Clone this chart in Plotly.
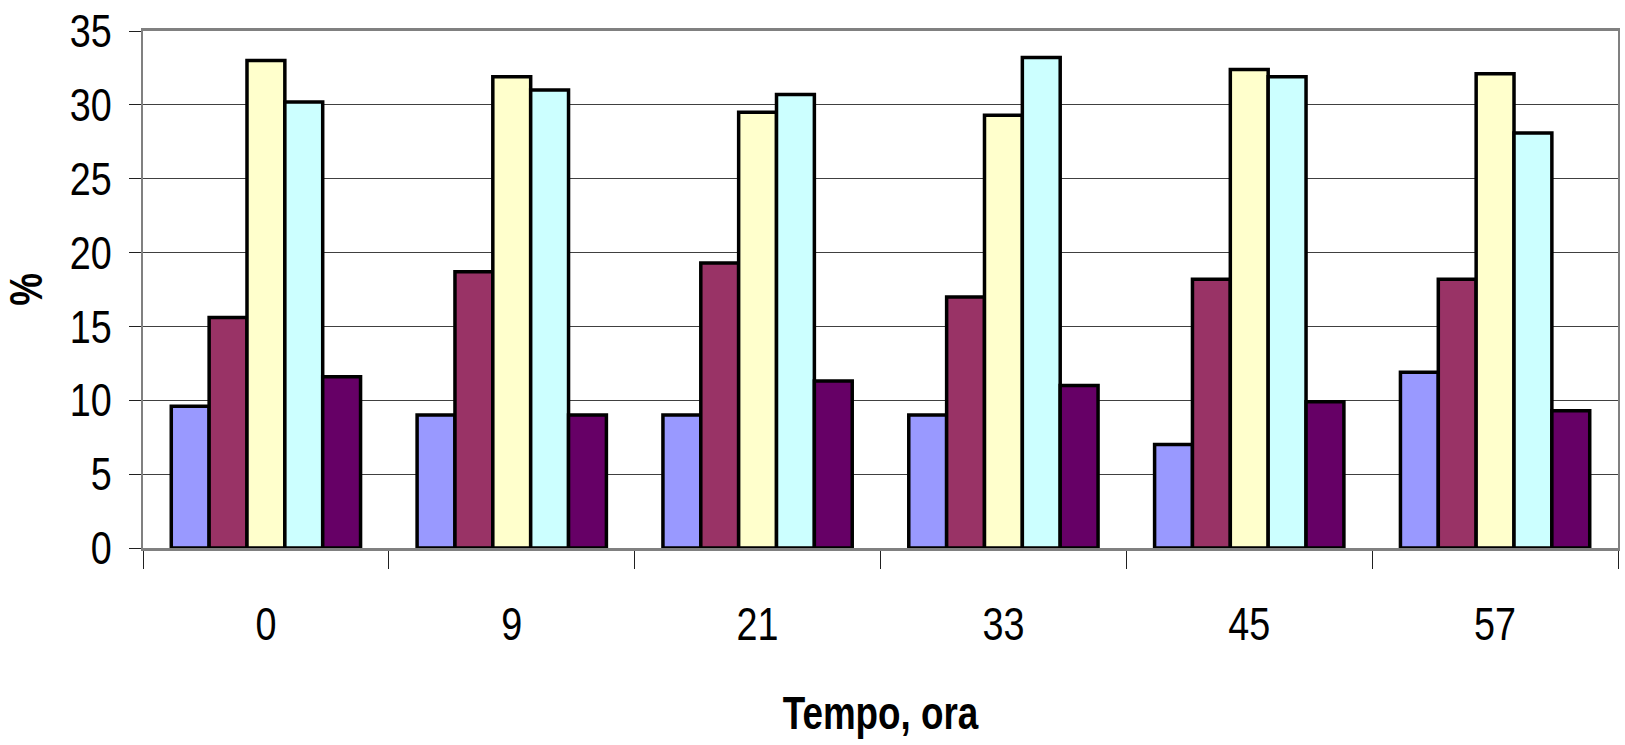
import plotly.graph_objects as go

# Sampling times (hours) and percentage of each fraction
tempo = ["0", "9", "21", "33", "45", "57"]
serie_1 = [9.6, 9.0, 9.0, 9.0, 7.0, 11.9]
serie_2 = [15.6, 18.7, 19.3, 17.0, 18.2, 18.2]
serie_3 = [33.0, 31.9, 29.5, 29.3, 32.4, 32.1]
serie_4 = [30.2, 31.0, 30.7, 33.2, 31.9, 28.1]
serie_5 = [11.6, 9.0, 11.3, 11.0, 9.9, 9.3]

colori = ["#9999FF", "#993366", "#FFFFCC", "#CCFFFF", "#660066"]
serie = [serie_1, serie_2, serie_3, serie_4, serie_5]

FONT = "Liberation Sans, Arial, sans-serif"

fig = go.Figure()
for valori, colore in zip(serie, colori):
    fig.add_trace(go.Bar(
        x=tempo, y=valori,
        marker=dict(color=colore, line=dict(color="black", width=3.5)),
        showlegend=False,
    ))

fig.update_layout(
    width=1625, height=745,
    margin=dict(l=143, r=5, t=31, b=197),
    paper_bgcolor="white", plot_bgcolor="white",
    barmode="group", bargap=0.23, bargroupgap=0,
    font=dict(family=FONT, color="black", size=46),
)

fig.update_xaxes(
    type="category",
    tickson="boundaries", ticks="outside", ticklen=18, tickwidth=1, tickcolor="#202020",
    ticklabelstandoff=34,
    tickfont=dict(size=46, family=FONT),
    showline=True, linecolor="#808080", linewidth=3, mirror=True,
    showgrid=False,
    title=dict(text="Tempo, ora", font=dict(size=46, family=FONT, weight="bold"), standoff=48),
)

fig.update_yaxes(
    range=[0, 35], dtick=5,
    ticks="outside", ticklen=12, tickwidth=1, tickcolor="#202020",
    ticklabelstandoff=8,
    tickfont=dict(size=46, family=FONT),
    showline=True, linecolor="#808080", linewidth=2, mirror=True,
    showgrid=True, gridcolor="#404040", gridwidth=1,
    zeroline=False,
    title=dict(text="%", font=dict(size=46, family=FONT, weight="bold"), standoff=10),
)

# Narrow lettering: condense axis texts horizontally with SVG textLength
squeeze_js = """
var gd = document.getElementById('{plot_id}');
function squeeze() {
  var specs = [['.xtick text', 0.82], ['.ytick text', 0.82],
               ['.g-xtitle text', 0.8], ['.g-ytitle text', 0.8]];
  specs.forEach(function (s) {
    gd.querySelectorAll(s[0]).forEach(function (t) {
      var key = t.textContent;
      if (t.getAttribute('data-sq') === key) return;
      t.removeAttribute('textLength');
      var w = t.getComputedTextLength();
      if (w > 0) {
        t.setAttribute('textLength', w * s[1]);
        t.setAttribute('lengthAdjust', 'spacingAndGlyphs');
        t.setAttribute('data-sq', key);
      }
    });
  });
}
squeeze();
gd.on('plotly_afterplot', squeeze);
"""

fig.write_html("out.html", post_script=squeeze_js)
